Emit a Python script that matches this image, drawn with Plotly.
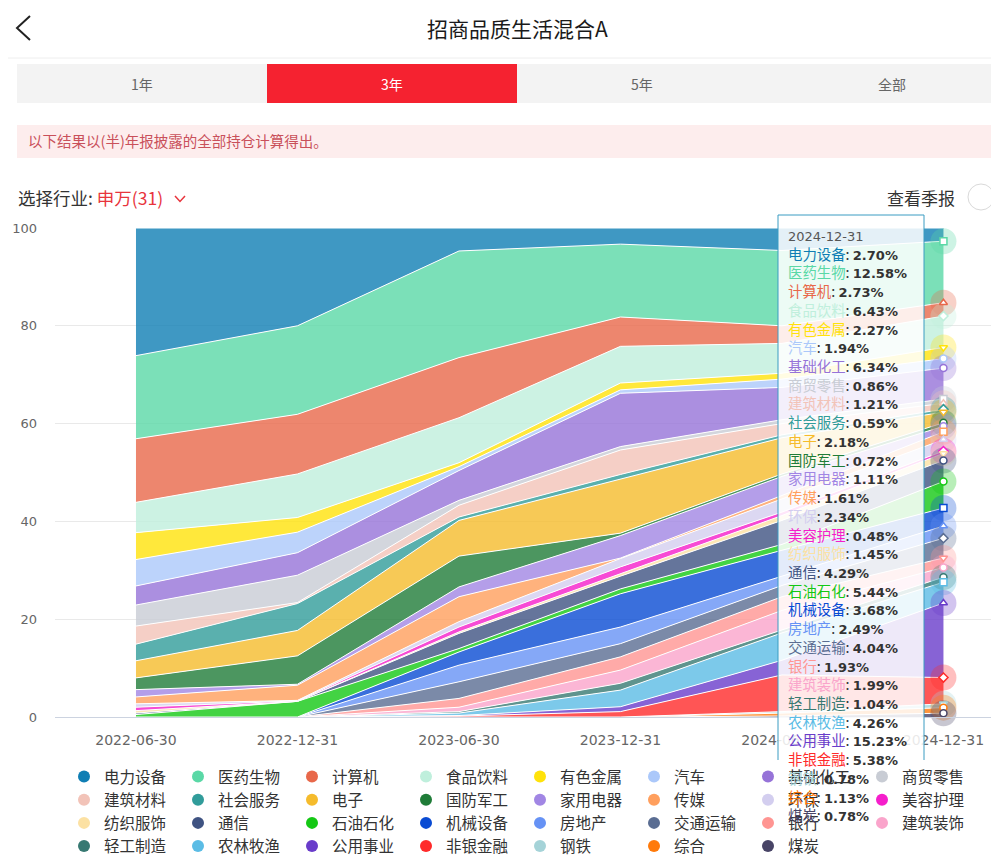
import numpy as np
import plotly.graph_objects as go

dates = ["2022-06-30", "2022-12-31", "2023-06-30", "2023-12-31", "2024-06-30", "2024-12-31"]

industries = ["电力设备", "医药生物", "计算机", "食品饮料", "有色金属", "汽车", "基础化工", "商贸零售",
              "建筑材料", "社会服务", "电子", "国防军工", "家用电器", "传媒", "环保", "美容护理",
              "纺织服饰", "通信", "石油石化", "机械设备", "房地产", "交通运输", "银行", "建筑装饰",
              "轻工制造", "农林牧渔", "公用事业", "非银金融", "钢铁", "综合", "煤炭"]

colors = ["#0f7eb4", "#5ad8a6", "#e8684a", "#bfefdc", "#ffe20a", "#abc8fa", "#9673d8", "#c8ccd4",
          "#f2c3b8", "#319c9a", "#f5bb2c", "#1f7c38", "#a186e4", "#ff9f5d", "#d3ceef", "#f51ecb",
          "#fce1a3", "#3f5382", "#14c814", "#094bd3", "#6692f5", "#5a6d92", "#ff9592", "#faa4cb",
          "#377972", "#5bbce5", "#693cca", "#ff2a2a", "#a5d3d8", "#ff7a0a", "#484466"]

# industry weights (%) per report date, same order as `industries`
share_2022h1 = [26.1, 17.0, 13.0, 6.2, 5.5, 5.4, 3.9, 4.3, 3.7, 3.4, 3.5, 2.4, 1.5, 1.4, 0.7, 0.7,
                0.5, 0.3, 0.5, 0, 0, 0, 0, 0, 0, 0, 0, 0, 0, 0, 0]
share_2022h2 = [20.0, 18.1, 12.2, 8.9, 3.0, 4.2, 4.6, 5.6, 0.2, 5.5, 5.2, 5.8, 0.2, 3.1, 0.1, 0.1,
                0, 0, 3.2, 0, 0, 0, 0, 0, 0, 0, 0, 0, 0, 0, 0]
share_2023h1 = [4.7, 21.8, 12.3, 9.2, 0.8, 0.8, 6.1, 1.0, 2.4, 0.7, 7.3, 6.3, 2.0, 5.1, 1.1, 1.0,
                0.3, 3.1, 0.7, 2.7, 3.4, 3.4, 1.8, 0.9, 0.3, 0.5, 0.1, 0.2, 0, 0, 0]
share_2023h2 = [3.3, 14.9, 6.0, 7.5, 1.4, 0.7, 10.9, 0.7, 5.0, 0.9, 11.1, 0.5, 4.6, 0.1, 1.7, 1.4,
                0.5, 2.6, 1.0, 6.8, 3.4, 2.7, 2.7, 2.7, 1.4, 3.4, 1.0, 1.1, 0, 0, 0]
share_2024h1 = [4.6, 15.4, 3.6, 6.1, 1.2, 1.7, 6.6, 0.8, 2.3, 0.6, 7.4, 0.5, 3.9, 0.7, 2.7, 0.7,
                1.0, 4.9, 1.2, 5.3, 1.9, 2.3, 2.8, 4.0, 0.6, 5.6, 3.0, 7.5, 0.3, 0.6, 0.2]
share_2024h2 = [2.70, 12.58, 2.73, 6.43, 2.27, 1.94, 6.34, 0.86, 1.21, 0.59, 2.18, 0.72, 1.11, 1.61, 2.34, 0.48,
                1.45, 4.29, 5.44, 3.68, 2.49, 4.04, 1.93, 1.99, 1.04, 4.26, 15.23, 5.38, 0.78, 1.13, 0.78]

by_date = [share_2022h1, share_2022h2, share_2023h1, share_2023h2, share_2024h1, share_2024h2]

# screen geometry in pixels; the page body adds an 8px offset
OFF = 8
W, H = 999 - OFF, 864 - OFF
L, R, T, B = 55, 999, 228, 717


def px(x):
    return (x - L) / (R - L)


def py(y):
    return (B - y) / (B - T)


def rgba(hex_color, a):
    h = hex_color.lstrip("#")
    return "rgba({},{},{},{})".format(int(h[0:2], 16), int(h[2:4], 16), int(h[4:6], 16), a)


CJK = "Noto Sans CJK SC"
fig = go.Figure()

# stacked areas: last industry sits at the bottom
for i in reversed(range(len(industries))):
    fig.add_trace(go.Scatter(
        x=dates, y=[d[i] for d in by_date], name=industries[i],
        stackgroup="one", mode="lines",
        line=dict(color="white", width=1),
        fillcolor=rgba(colors[i], 0.8),
        showlegend=False, hoverinfo="skip",
    ))

# legend entries with round markers
for i, name in enumerate(industries):
    fig.add_trace(go.Scatter(
        x=[None], y=[None], mode="markers", name=name,
        marker=dict(size=14, color=colors[i]),
        legendrank=i + 1,
    ))

# hover emphasis on the last date
last = np.array(share_2024h2)
tops = np.cumsum(last[::-1])[::-1]
symbols = ["circle", "square", "triangle-up", "diamond", "triangle-down", "circle"]
fig.add_trace(go.Scatter(
    x=[dates[-1]] * len(industries), y=tops, mode="markers",
    marker=dict(size=26, color=colors, opacity=0.3),
    showlegend=False, hoverinfo="skip", cliponaxis=False,
))
fig.add_trace(go.Scatter(
    x=[dates[-1]] * len(industries), y=tops, mode="markers",
    marker=dict(size=7, color="white", symbol=[symbols[i % len(symbols)] for i in range(len(industries))],
                line=dict(color=colors, width=1.5)),
    showlegend=False, hoverinfo="skip", cliponaxis=False,
))

shapes = [
    dict(type="line", x0=px(0), x1=px(999), y0=py(58), y1=py(58), line=dict(color="#eeeeee", width=1)),
    dict(type="path", path="M {} {} L {} {} L {} {}".format(px(30), py(16), px(17), py(28), px(30), py(40)),
         line=dict(color="#222222", width=2)),
    dict(type="rect", x0=px(17), x1=px(999), y0=py(103), y1=py(64), fillcolor="#f3f3f3", line_width=0),
    dict(type="rect", x0=px(267), x1=px(517), y0=py(103), y1=py(64), fillcolor="#f52230", line_width=0),
    dict(type="rect", x0=px(17), x1=px(999), y0=py(158), y1=py(125), fillcolor="#fdeded", line_width=0),
    dict(type="path", path="M {} {} L {} {} L {} {}".format(px(175), py(196), px(180), py(201.5), px(185), py(196)),
         line=dict(color="#e8343c", width=1.5)),
    dict(type="circle", x0=px(968), x1=px(994), y0=py(210), y1=py(184), fillcolor="white",
         line=dict(color="#d9d9d9", width=1)),
    # tooltip box
    dict(type="rect", x0=px(778), x1=px(924), y0=py(839), y1=py(215), layer="above",
         fillcolor="rgba(255,255,255,0.86)", line=dict(color="#3a9cc2", width=1)),
]

num_style = "font-family:DejaVu Sans;font-size:13px;color:#333"
tip = ["<span style='font-family:DejaVu Sans;font-size:13px;color:#555'>{}</span>".format(dates[-1])]
for name, c, v in zip(industries, colors, share_2024h2):
    tip.append("<span style='color:{}'>{}</span>: <span style='{}'><b>{:.2f}%</b></span>".format(
        c, name, num_style, v))

annotations = [
    dict(x=px(517), y=py(28), text="招商品质生活混合A", font=dict(size=21, color="#1a1a1a")),
    dict(x=px(142), y=py(84), text="1年", font=dict(size=14, color="#666666")),
    dict(x=px(392), y=py(84), text="3年", font=dict(size=14, color="white")),
    dict(x=px(642), y=py(84), text="5年", font=dict(size=14, color="#666666")),
    dict(x=px(892), y=py(84), text="全部", font=dict(size=14, color="#666666")),
    dict(x=px(26), y=py(141), xanchor="left", text="以下结果以(半)年报披露的全部持仓计算得出。",
         font=dict(size=14.5, color="#c9505a")),
    dict(x=px(993), y=py(141), xanchor="left", text="›", font=dict(size=14, color="#c9505a")),
    dict(x=px(16), y=py(197), xanchor="left",
         text="选择行业: <span style='color:#e8343c'>申万(31)</span>", font=dict(size=17.5, color="#333333")),
    dict(x=px(957), y=py(197), xanchor="right", text="查看季报", font=dict(size=17, color="#333333")),
    dict(x=px(786), y=py(227), xanchor="left", yanchor="top", align="left", text="<br>".join(tip),
         font=dict(size=14.4, color="#333333")),
]
for a in annotations:
    a.setdefault("yanchor", "middle")
    a.setdefault("xanchor", "center")
    a.update(xref="paper", yref="paper", showarrow=False)
    a["font"]["family"] = CJK
for s in shapes:
    s.update(xref="paper", yref="paper")

fig.update_layout(
    width=W, height=H,
    margin=dict(l=L - OFF, r=W - (R - OFF), t=T - OFF, b=H - (B - OFF)),
    paper_bgcolor="white", plot_bgcolor="white",
    font=dict(family=CJK, color="#333333"),
    hovermode=False,
    shapes=shapes, annotations=annotations,
    legend=dict(orientation="h", x=px(64), xanchor="left", y=py(760), yanchor="top",
                entrywidth=69, font=dict(size=15.5, color="#333333", family=CJK),
                itemsizing="constant", traceorder="normal"),
    xaxis=dict(type="category", range=[-0.5015, 5.344], showgrid=False,
               showline=True, linecolor="#ccd3e0", ticks="",
               tickfont=dict(size=14, color="#666666", family="DejaVu Sans"), ticklabelstandoff=10),
    yaxis=dict(range=[0, 100], tickvals=[0, 20, 40, 60, 80, 100], gridcolor="#e9e9e9",
               zeroline=False, showline=False, ticks="",
               tickfont=dict(size=13, color="#666666", family="DejaVu Sans"), ticklabelstandoff=17),
)

fig.write_html("out.html")
